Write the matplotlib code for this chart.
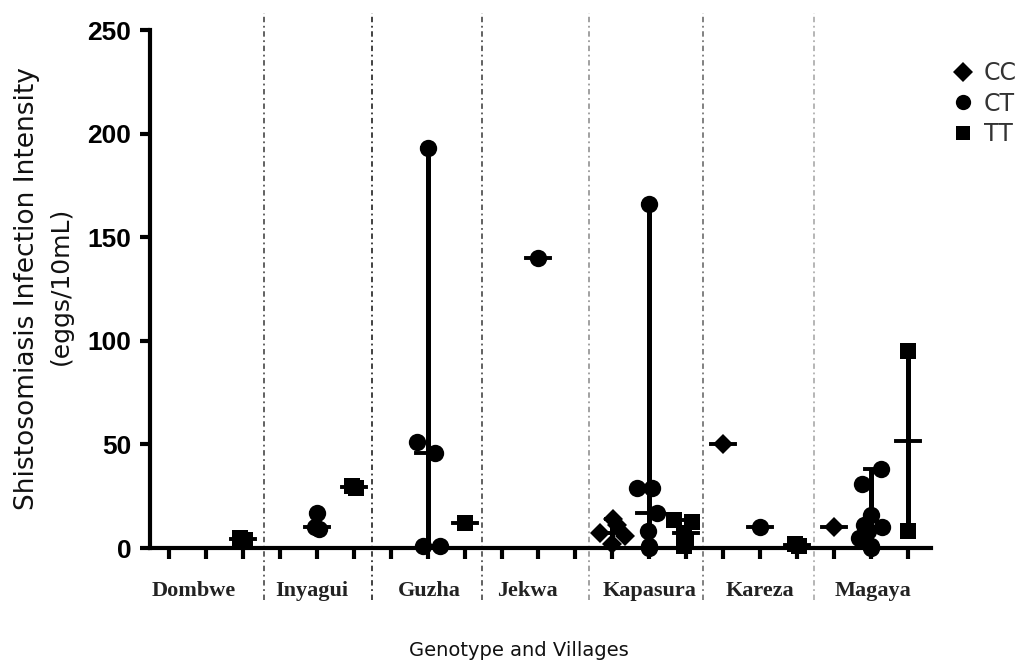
import matplotlib
matplotlib.use('Agg')
import matplotlib.pyplot as plt
from matplotlib.lines import Line2D
import numpy as np

# ---------------- data ----------------
villages = ['Dombwe', 'Inyagui', 'Guzha', 'Jekwa', 'Kapasura', 'Kareza', 'Magaya']
genotypes = ['CC', 'CT', 'TT']
cc_values = [[], [], [], [], [14, 11, 7, 6, 2], [50], [10]]
ct_values = [[], [17, 10, 9], [193, 51, 46, 1, 1], [140],
             [166, 29, 29, 17, 8, 1, 0], [10], [38, 31, 16, 11, 10, 8, 5, 1, 0]]
tt_values = [[5, 4], [30, 29], [12], [], [13.5, 12.5, 7, 4, 1], [2, 1], [95, 8]]
y_ticks = [0, 50, 100, 150, 200, 250]

# horizontal jitter of the dots (pixels), layout only, parallel to the lists above
cc_jitter = [[], [], [], [], [1, 5, -12, 13, 0], [0], [0]]
ct_jitter = [[], [0, -2, 2], [0, -11, 7, -5, 12], [0],
             [0, -12, 3, 8, -1, 0, 0], [0], [10, -9, 0, -7, 11, -3, -12, 0, 0]]
tt_jitter = [[-3, 2], [-2, 2], [0], [], [-12, 6, -2, 0, -2], [-2, 2], [0, 0]]

# ---------------- layout ----------------
W, H = 1036, 661
fig = plt.figure(figsize=(W / 100, H / 100), dpi=100)
ax_l, ax_r, ax_t, ax_b = 150, 931, 30, 548
ax = fig.add_axes([ax_l / W, 1 - ax_b / H, (ax_r - ax_l) / W, (ax_b - ax_t) / H])
XMIN, XMAX = -0.51, 20.62
ax.set_xlim(XMIN, XMAX)
ax.set_ylim(0, 250)
PX = (ax_r - ax_l) / (XMAX - XMIN)   # pixels per category unit
PY = (ax_b - ax_t) / 250.0           # pixels per value unit

styles = {'CC': dict(marker='D', ms=10), 'CT': dict(marker='o', ms=12.5), 'TT': dict(marker='s', ms=11.5)}
series = {'CC': cc_values, 'CT': ct_values, 'TT': tt_values}
jitters = {'CC': cc_jitter, 'CT': ct_jitter, 'TT': tt_jitter}

med_half = 12 / PX
cap_half = 6 / PX
for g_i, g in enumerate(genotypes):
    for v_i, vals in enumerate(series[g]):
        if not vals:
            continue
        x0 = 3 * v_i + g_i
        vals_arr = np.array(vals, dtype=float)
        lo, hi, med = vals_arr.min(), vals_arr.max(), np.median(vals_arr)
        if hi > lo:
            ax.plot([x0, x0], [lo, hi], color='black', lw=3.6, solid_capstyle='butt', clip_on=False, zorder=3)
            for yy in (lo, hi):
                ax.plot([x0 - cap_half, x0 + cap_half], [yy, yy], color='black', lw=2.8, clip_on=False, zorder=3)
        ax.plot([x0 - med_half, x0 + med_half], [med, med], color='black', lw=2.8, clip_on=False, zorder=3)
        offs = np.array(jitters[g][v_i], dtype=float) / PX
        ax.plot(x0 + offs, vals_arr, ls='none', color='black',
                markeredgewidth=0, clip_on=False, zorder=4, **styles[g])

# separators
sep_x = [2.57, 5.49, 8.46, 11.38, 14.46, 17.46]
sep_col = ['#555555', '#333333', '#555555', '#9a9a9a', '#777777', '#b0b0b0']
y_top = (ax_b - 13) / PY
y_bot = (ax_b - 600) / PY
for sx, sc in zip(sep_x, sep_col):
    ax.plot([sx, sx], [y_bot, y_top], color=sc, lw=1.3, ls=(0, (3, 2, 1, 2)), clip_on=False, zorder=1)

# axes styling
for s in ('top', 'right'):
    ax.spines[s].set_visible(False)
for s in ('left', 'bottom'):
    ax.spines[s].set_linewidth(3)
ax.set_xticks(range(21))
ax.set_xticklabels([])
ax.set_yticks(y_ticks)
ax.set_yticklabels([str(t) for t in y_ticks], fontsize=19, family='Liberation Sans', weight='bold')
ax.tick_params(axis='x', length=8, width=3, direction='out')
ax.tick_params(axis='y', length=7.5, width=3, direction='out', pad=6)

# village labels
label_x = [0.68, 3.87, 7.06, 9.69, 13.0, 16.0, 19.05]
for lx, name in zip(label_x, villages):
    ax.text(lx, (ax_b - 591) / PY, name, ha='center', va='center', fontsize=16,
            family='Liberation Serif', weight='bold', color='#222222', clip_on=False)

# axis titles
fig.text(27 / W, 1 - 289 / H, 'Shistosomiasis Infection Intensity', rotation=90, ha='center', va='center',
         fontsize=19, family='DejaVu Sans', color='#111111')
fig.text(61 / W, 1 - 286 / H, '(eggs/10mL)', rotation=90, ha='center', va='center',
         fontsize=18, family='DejaVu Sans', color='#111111')
fig.text(519 / W, 1 - 650 / H, 'Genotype and Villages', ha='center', va='center',
         fontsize=14, family='DejaVu Sans', color='#111111')

# legend
handles = [Line2D([], [], ls='none', color='black', marker='D', ms=10, markeredgewidth=0),
           Line2D([], [], ls='none', color='black', marker='o', ms=11, markeredgewidth=0),
           Line2D([], [], ls='none', color='black', marker='s', ms=10.5, markeredgewidth=0)]
leg = fig.legend(handles, genotypes, loc='upper left', bbox_to_anchor=(952 / W, 1 - 61 / H),
                 frameon=False, handlelength=0.9, handletextpad=0.45,
                 labelspacing=0.28, borderpad=0, borderaxespad=0,
                 prop={'family': 'DejaVu Sans', 'size': 17})
for t in leg.get_texts():
    t.set_color('#333333')

fig.savefig('out.png', dpi=100)
